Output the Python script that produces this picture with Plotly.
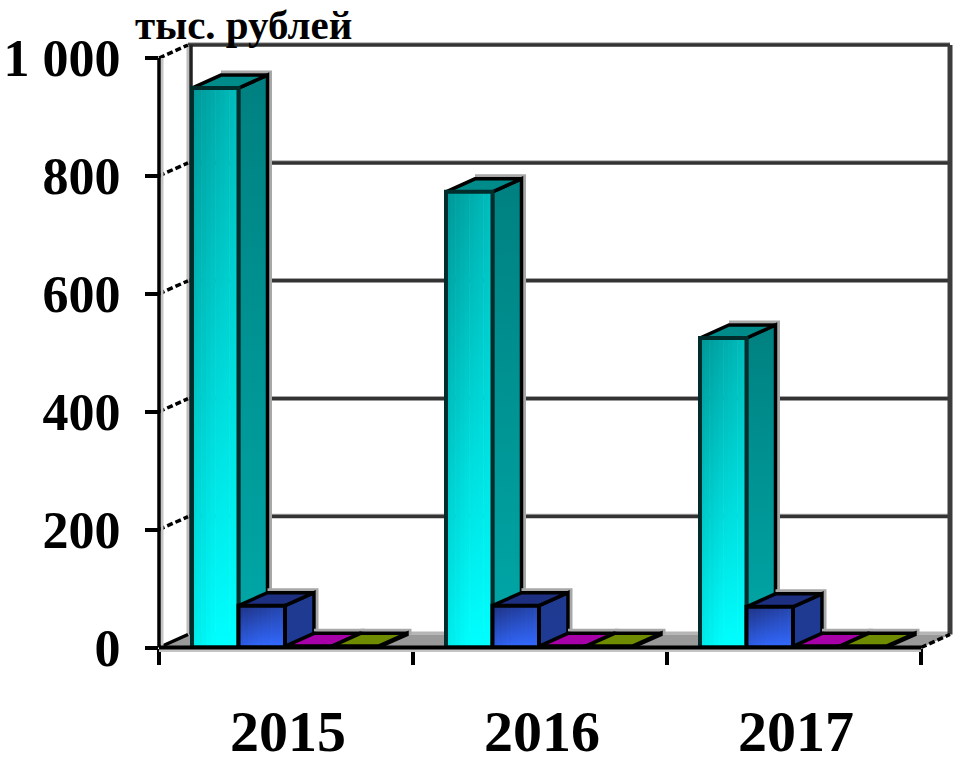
import plotly.graph_objects as go

years = ["2015", "2016", "2017"]
teal = [949, 773, 525]
blue = [71, 71, 69]
magenta = [2, 2, 2]
olive = [2, 2, 2]
y_ticks = [0, 200, 400, 600, 800, 1000]
y_labels = ["0", "200", "400", "600", "800", "1 000"]
unit_label = "тыс. рублей"

W, H = 961, 764
X0_PX, Y0_PX = 159, 647.5
PX_X = 254.0
PX_Y = 0.5895
DX = 29 / PX_X
DY = 13 / PX_Y
BAR_W = 46.5 / PX_X
GROUP_OFF = 33 / PX_X
XMAX = 3.0
YTOP = 1000.0
STRIPS = 10

series = [
    dict(v=teal, dark=(0, 150, 150), light=(0, 255, 255), side=["#00a8a8", "#008080"], top="#008b8b", edge="#012c2c"),
    dict(v=blue, dark=(30, 50, 130), light=(50, 105, 255), side=["#1e3a94", "#1f3a8f"], top="#1c2f80", edge="#000000"),
    dict(v=magenta, dark=None, front="#a000a0", side=["#7a007a", "#7a007a"], top="#a800a8", edge="#000000"),
    dict(v=olive, dark=None, front="#6e8a00", side=["#4a5a00", "#4a5a00"], top="#6f8c00", edge="#000000"),
]

fig = go.Figure()

# invisible trace that keeps the primary (tick-bearing) axes alive
fig.add_trace(go.Scatter(x=[0], y=[0], mode="none", hoverinfo="skip", showlegend=False))


def mix(a, b, t):
    t = min(max(t, 0), 1)
    return "rgb(%d,%d,%d)" % tuple(round(p + (q - p) * t) for p, q in zip(a, b))


def line(xs, ys, color="#000000", width=3, dash=None):
    fig.add_trace(go.Scatter(x=xs, y=ys, xaxis="x2", yaxis="y2", mode="lines", hoverinfo="skip",
                             line=dict(color=color, width=width, dash=dash), showlegend=False))


def face(xs, ys, colors=None, solid=None, lw=3, lc="#000000"):
    kw = {}
    if colors:
        kw["fillgradient"] = dict(type="vertical", colorscale=[[0, colors[0]], [1, colors[1]]])
    else:
        kw["fillcolor"] = solid
    fig.add_trace(go.Scatter(x=xs, y=ys, xaxis="x2", yaxis="y2", mode="lines", fill="toself",
                             hoverinfo="skip", line=dict(color=lc, width=lw),
                             showlegend=False, **kw))


def diagonal_front(x0, x1, v, dark, light):
    """Front face shaded from top-left (dark) to bottom-right (light): columns of vertical gradients."""
    step = (x1 - x0) / STRIPS
    for k in range(STRIPS):
        u = (k + 0.5) / STRIPS
        a, b = x0 + k * step, x0 + (k + 1) * step + 0.6 / PX_X
        b = min(b, x1)
        face([a, b, b, a, a], [0, 0, v, v, 0],
             colors=[mix(dark, light, 0.8 + 0.4 * u), mix(dark, light, 0.38 * u)],
             lw=0, lc="rgba(0,0,0,0)")


# floor
face([0, XMAX, XMAX + DX, DX, 0], [0, 0, DY, DY, 0], solid="#999999", lw=0.1)
line([DX, XMAX + DX], [DY + 2.5, DY + 2.5], "#b5b5b5", 3)

# back wall: gridlines, edges
for t in y_ticks[1:]:
    line([DX, XMAX + DX], [t + DY + 3, t + DY + 3], "#a6a6a6", 2)
    line([DX, XMAX + DX], [t + DY, t + DY], "#333333", 3.5)
line([DX, DX], [DY, YTOP + DY], "#bdbdbd", 3)
line([DX + 3 / PX_X, DX + 3 / PX_X], [DY, YTOP + DY], "#222222", 3.5)
line([XMAX + DX, XMAX + DX], [DY, YTOP + DY], "#3c3c3c", 5)

# left side wall diagonals
for t in y_ticks:
    line([0, DX], [t, t + DY], "#000000", 3.5, "6px,3px" if t else None)
line([XMAX, XMAX + DX], [0, DY], "#000000", 3.5, "6px,3px")

# bars
for gi in range(len(years)):
    for si, s in enumerate(series):
        v = s["v"][gi]
        x0 = gi + GROUP_OFF + si * BAR_W
        x1 = x0 + BAR_W
        line([x0 + DX, x1 + DX + 3 / PX_X, x1 + DX + 3 / PX_X],
             [v + DY + 3 / PX_Y, v + DY + 3 / PX_Y, DY], "#a8a8a8", 3)
        face([x1, x1 + DX, x1 + DX, x1, x1], [0, DY, v + DY, v, 0], colors=s["side"], lw=3.5)
        face([x0, x1, x1 + DX, x0 + DX, x0], [v, v, v + DY, v + DY, v], solid=s["top"], lw=3.5)
        if s["dark"]:
            diagonal_front(x0, x1, v, s["dark"], s["light"])
            line([x0, x0, x1, x1, x0], [0, v, v, 0, 0], s["edge"], 4)
        else:
            face([x0, x1, x1, x0, x0], [0, 0, v, v, 0], solid=s["front"], lw=3.5)

# front axes, with their pale shadows
line([3 / PX_X, 3 / PX_X], [0, YTOP], "#c4c4c4", 3)
line([0, XMAX], [-5, -5], "#c4c4c4", 3)
line([0, 0], [0, YTOP], "#000000", 3.5)
line([0, XMAX], [0, 0], "#000000", 4)

fig.add_annotation(xref="x2", yref="y2", x=(243 - X0_PX) / PX_X, y=(Y0_PX - 25) / PX_Y,
                   xanchor="center", yanchor="middle", text=f"<b>{unit_label}</b>", showarrow=False,
                   font=dict(family="Liberation Serif", size=41, color="#000000"))

fig.update_layout(
    width=W, height=H, paper_bgcolor="#ffffff", plot_bgcolor="rgba(0,0,0,0)", showlegend=False,
    margin=dict(l=0, r=0, t=0, b=0),
    xaxis=dict(domain=[X0_PX / W, 950 / W], range=[0, (950 - X0_PX) / PX_X], tickmode="array",
               automargin=False, tickvals=[i + 0.5 + 2 / PX_X for i in range(len(years))],
               ticktext=years, ticks="", showgrid=False, zeroline=False, showline=False,
               ticklabelstandoff=44,
               tickfont=dict(family="Liberation Serif", size=58, color="#000000", weight="bold"),
               minor=dict(tickmode="array", tickvals=[0, 1, 2, 3], ticks="outside", ticklen=16,
                          tickwidth=3.5, tickcolor="#000000", showgrid=False)),
    yaxis=dict(domain=[(H - Y0_PX) / H, (H - 40) / H], range=[0, (Y0_PX - 40) / PX_Y],
               tickmode="array", tickvals=y_ticks, ticktext=y_labels, automargin=False,
               ticks="outside", ticklen=13, tickwidth=3.5, tickcolor="#000000",
               showgrid=False, zeroline=False, showline=False, ticklabelstandoff=14,
               tickfont=dict(family="Liberation Serif", size=52, color="#000000", weight="bold")),
    xaxis2=dict(domain=[0, 1], range=[-X0_PX / PX_X, (W - X0_PX) / PX_X], visible=False, anchor="y2"),
    yaxis2=dict(domain=[0, 1], range=[(Y0_PX - H) / PX_Y, Y0_PX / PX_Y], visible=False, anchor="x2"),
)

fig.write_html("out.html", config={"displayModeBar": False},
               post_script="document.body.style.margin='0';")
